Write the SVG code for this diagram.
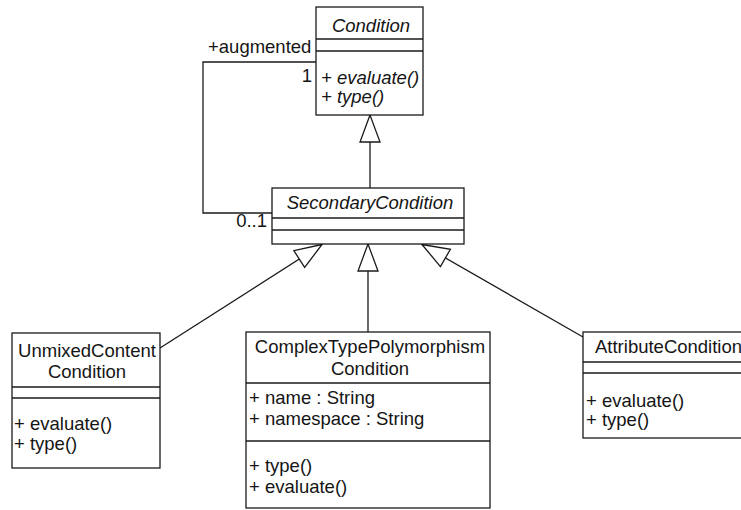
<svg xmlns="http://www.w3.org/2000/svg" width="741" height="510" viewBox="0 0 741 510">
  <style>
    .box { fill: #fff; stroke: #1a1a1a; stroke-width: 1.3; }
    .div { stroke: #1a1a1a; stroke-width: 1.3; fill: none; }
    .edge { stroke: #1a1a1a; stroke-width: 1.3; fill: none; }
    text { font-family: "Liberation Sans", Arial, Helvetica, sans-serif; font-size: 18.5px; fill: #151515; }
    .ital { font-style: italic; }
    .mid { text-anchor: middle; }
    .end { text-anchor: end; }
  </style>
  <defs>
    <!-- hollow generalization triangle, tip at the superclass -->
    <marker id="gen" markerUnits="userSpaceOnUse" markerWidth="30" markerHeight="24" refX="27" refY="10" orient="auto" overflow="visible">
      <path d="M27,10 L0,0 L0,20 Z" fill="#fff" stroke="#1a1a1a" stroke-width="1.3"/>
    </marker>
  </defs>

  <rect width="741" height="510" fill="#fff"/>

  <g id="connectors">
    <!-- self association SecondaryCondition -> Condition -->
    <polyline class="edge" points="316,62 203,62 203,213 272,213"/>
    <!-- generalizations -->
    <line class="edge" x1="370" y1="188" x2="370" y2="115" marker-end="url(#gen)"/>
    <line class="edge" x1="160" y1="348" x2="322" y2="244.5" marker-end="url(#gen)"/>
    <line class="edge" x1="368" y1="332" x2="368" y2="244" marker-end="url(#gen)"/>
    <line class="edge" x1="583" y1="337" x2="422" y2="244.5" marker-end="url(#gen)"/>
    <!-- association end labels -->
    <text x="208" y="53">+augmented</text>
    <text class="end" x="312" y="82">1</text>
    <text class="end" x="267" y="227">0..1</text>
  </g>

  <g id="condition">
    <rect class="box" x="316" y="7" width="107" height="108"/>
    <line class="div" x1="316" y1="39" x2="423" y2="39"/>
    <line class="div" x1="316" y1="51" x2="423" y2="51"/>
    <text class="ital mid" x="371" y="32">Condition</text>
    <text class="ital" x="321" y="84">+ evaluate()</text>
    <text class="ital" x="321" y="103">+ type()</text>
  </g>

  <g id="secondary-condition">
    <rect class="box" x="272" y="188" width="192" height="56"/>
    <line class="div" x1="272" y1="218" x2="464" y2="218"/>
    <line class="div" x1="272" y1="230" x2="464" y2="230"/>
    <text class="ital mid" x="370" y="209">SecondaryCondition</text>
  </g>

  <g id="unmixed-content-condition">
    <rect class="box" x="12" y="333" width="148" height="135"/>
    <line class="div" x1="12" y1="387" x2="160" y2="387"/>
    <line class="div" x1="12" y1="398" x2="160" y2="398"/>
    <text class="mid" x="87" y="357">UnmixedContent</text>
    <text class="mid" x="87" y="378">Condition</text>
    <text x="14" y="430">+ evaluate()</text>
    <text x="14" y="450">+ type()</text>
  </g>

  <g id="complex-type-polymorphism-condition">
    <rect class="box" x="246" y="332" width="244" height="176"/>
    <line class="div" x1="246" y1="383" x2="490" y2="383"/>
    <line class="div" x1="246" y1="441" x2="490" y2="441"/>
    <text class="mid" x="370" y="353">ComplexTypePolymorphism</text>
    <text class="mid" x="370" y="375">Condition</text>
    <text x="249" y="404">+ name : String</text>
    <text x="249" y="425">+ namespace : String</text>
    <text x="249" y="472">+ type()</text>
    <text x="249" y="493">+ evaluate()</text>
  </g>

  <g id="attribute-condition">
    <rect class="box" x="583" y="332" width="180" height="106"/>
    <line class="div" x1="583" y1="362" x2="763" y2="362"/>
    <line class="div" x1="583" y1="373" x2="763" y2="373"/>
    <text x="595" y="353">AttributeCondition</text>
    <text x="586" y="407">+ evaluate()</text>
    <text x="586" y="426">+ type()</text>
  </g>
</svg>
